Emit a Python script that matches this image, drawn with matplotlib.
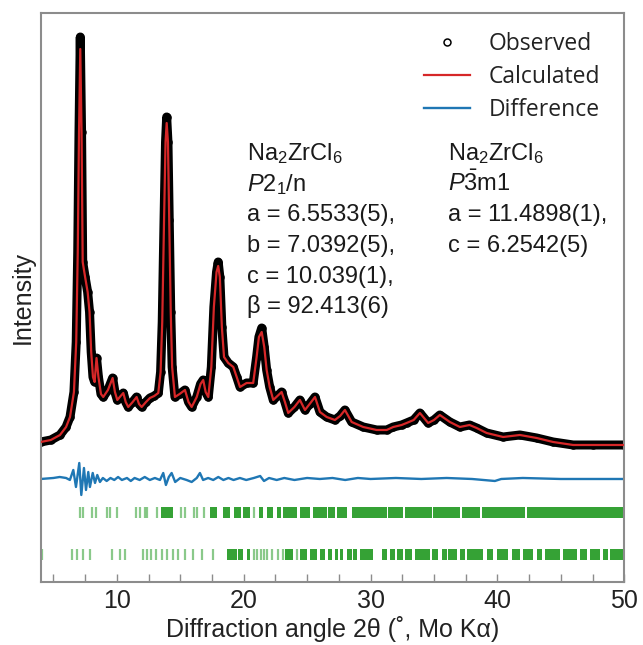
import matplotlib
matplotlib.use("Agg")
import matplotlib.pyplot as plt
from matplotlib.ticker import MultipleLocator

plt.rcParams['font.family'] = ['Liberation Sans', 'DejaVu Sans']
plt.rcParams['mathtext.fontset'] = 'custom'
plt.rcParams['mathtext.rm'] = 'Liberation Sans'
plt.rcParams['mathtext.it'] = 'Liberation Sans:italic'

# observed pattern (arbitrary intensity units)
two_theta = [4.00, 4.80, 5.52, 6.00, 6.31, 6.62, 6.80, 6.92, 7.02, 7.12,
             7.22, 7.31, 7.50, 7.70, 7.85, 7.98, 8.12, 8.25, 8.40, 8.55,
             8.75, 8.93, 9.30, 9.67, 9.85, 10.04, 10.30, 10.51, 10.70, 10.90,
             11.25, 11.56, 11.75, 11.96, 12.30, 12.61, 12.95, 13.27, 13.45, 13.58,
             13.72, 13.84, 13.93, 14.03, 14.13, 14.25, 14.36, 14.58, 14.95, 15.37,
             15.65, 15.90, 16.30, 16.60, 16.81, 17.00, 17.21, 17.45, 17.65, 17.86,
             17.99, 18.12, 18.28, 18.45, 18.78, 19.18, 19.45, 19.71, 20.23, 20.75,
             21.02, 21.20, 21.42, 21.62, 21.81, 22.05, 22.33, 22.99, 23.25, 23.51,
             24.00, 24.43, 24.83, 25.20, 25.62, 26.01, 26.54, 27.19, 27.60, 27.98,
             28.51, 29.42, 30.48, 31.27, 31.79, 32.45, 32.84, 33.40, 33.89, 34.54,
             35.00, 35.46, 36.25, 37.04, 37.80, 38.36, 39.15, 40.45, 41.77, 43.09,
             44.39, 45.97, 47.55, 50.00]
observed = [140, 142, 147, 155, 165, 190, 240, 330, 450, 545,
            450, 320, 305, 290, 270, 230, 205, 200, 224, 205,
            188, 185, 192, 204, 190, 182, 186, 189, 180, 175,
            180, 185, 178, 175, 180, 184, 186, 189, 210, 260,
            360, 440, 465, 440, 362, 270, 215, 185, 188, 192,
            180, 175, 185, 198, 202, 190, 185, 215, 275, 310,
            320, 305, 255, 225, 219, 215, 205, 195, 199, 199,
            225, 245, 254, 235, 212, 195, 182, 190, 180, 169,
            175, 182, 172, 178, 185, 170, 165, 162, 166, 172,
            160, 155, 152, 152, 155, 157, 159, 162, 169, 159,
            162, 167, 160, 155, 157, 154, 149, 145, 147, 144,
            140, 137, 137, 137]
# calculated profile differs from the observed one only at the strong peak tops
calc_peak_tops = {7.12: 533, 13.93: 459, 17.99: 316, 21.42: 250}
calculated = [calc_peak_tops.get(t, v) for t, v in zip(two_theta, observed)]

diff_x = [4.0, 5.0, 5.5, 6.0, 6.3, 6.57, 6.78, 7.04, 7.20, 7.41,
          7.57, 7.75, 7.88, 8.10, 8.28, 8.46, 8.67, 8.9, 9.2, 9.5,
          9.8, 10.1, 10.4, 10.8, 11.1, 11.4, 11.8, 12.2, 12.6, 13.0,
          13.4, 13.66, 13.87, 14.1, 14.32, 14.6, 15.0, 15.5, 15.9, 16.3,
          16.55, 16.8, 17.2, 17.6, 18.0, 18.4, 18.8, 19.2, 19.7, 20.2,
          20.8, 21.3, 21.6, 22.0, 22.6, 23.2, 24.0, 25.0, 26.0, 27.0,
          28.0, 29.0, 30.0, 32.0, 34.0, 36.0, 38.0, 39.8, 40.3, 42.0,
          45.0, 48.0, 50.0]
diff_y = [0, 1, 2, 1, -1, 9, -8, 16, -16, 11,
          -11, 7, -8, 6, -4, 4, -3, 1, -2, 1,
          -1, 2, -1, 1, -2, 1, -1, 2, -1, 1,
          -1, 6, -6, 2, 6, -3, 1, -1, -3, 1,
          6, -1, 1, -1, 2, -1, 1, -1, 1, -1,
          1, 3, -2, 1, -1, 1, -1, 1, 0, 1,
          -1, 1, 0, 1, 0, 1, 0, -2, 0, 1,
          0, 0, 0]

# reflection markers, P2_1/n phase: single ticks and merged runs
ticks_p21n = [7.10, 7.36, 8.02, 8.36, 9.25, 9.46, 10.04, 11.51, 11.83, 12.22,
              12.35, 13.14, 15.03, 15.37, 16.08, 16.34, 16.87, 20.81]
runs_p21n = [(13.46, 14.45), (17.34, 17.87), (18.39, 18.92), (19.23, 19.76),
             (19.97, 20.49), (21.23, 21.54), (21.86, 22.33), (22.65, 22.91),
             (23.12, 24.17), (24.43, 25.22), (25.46, 26.54), (26.66, 27.19),
             (27.33, 28.11), (28.51, 31.27), (31.39, 32.57), (32.71, 34.81),
             (34.94, 37.04), (37.18, 38.62), (38.75, 42.16), (42.30, 50.0)]
# P-3m1 phase
ticks_p3m1 = [4.08, 6.44, 6.89, 7.36, 7.89, 9.59, 10.25, 10.64, 12.10, 12.35,
              12.70, 13.09, 13.53, 13.93, 14.40, 14.85, 15.37, 16.03, 16.69, 17.55,
              20.81, 21.07, 21.34, 21.60, 21.86, 22.20, 22.72, 23.07, 24.17]
runs_p3m1 = [(18.66, 19.45), (19.57, 19.97), (20.23, 20.49), (23.25, 23.91),
             (24.43, 24.96), (25.22, 25.75), (26.01, 26.40), (26.66, 26.93),
             (27.19, 27.45), (27.59, 27.85), (28.11, 28.51), (28.64, 28.90),
             (29.16, 30.21), (30.87, 31.27), (31.53, 31.92), (32.05, 32.57),
             (32.71, 33.23), (33.49, 34.68), (34.81, 35.33), (35.60, 35.99),
             (36.12, 36.78), (37.04, 37.44), (37.57, 38.88), (39.15, 39.67),
             (39.94, 40.86), (41.12, 41.77), (42.04, 42.83), (43.09, 43.48),
             (43.75, 44.93), (45.19, 46.25), (46.51, 47.03), (47.30, 48.09),
             (48.35, 48.74), (48.88, 50.0)]

text_p21n = ['Na$_2$ZrCl$_6$', '$P$2$_1$/n', 'a = 6.5533(5),', 'b = 7.0392(5),',
             'c = 10.039(1),', 'β = 92.413(6)']
text_p3m1 = ['Na$_2$ZrCl$_6$', '$P\\bar{3}$m1', 'a = 11.4898(1),', 'c = 6.2542(5)']

diff_offset = 103
row1, row2, tick_h = 69, 27, 11
green = '#2a9d2a'

fig = plt.figure(figsize=(6.43, 6.45), dpi=100)
ax = fig.add_axes([0.0633, 0.0977, 0.9076, 0.8826])

ax.plot(two_theta, observed, color='black', lw=6.5, solid_joinstyle='round',
        solid_capstyle='round', zorder=2)
ax.plot(two_theta, observed, 'o', ms=5, mfc='none', mec='black', mew=1.1,
        label='Observed', zorder=2)
ax.plot(two_theta, calculated, color='#d62728', lw=1.6, label='Calculated', zorder=3)
ax.plot(diff_x, [d + diff_offset for d in diff_y], color='#1f77b4', lw=1.7,
        label='Difference')

ax.vlines(ticks_p21n, row1 - tick_h / 2, row1 + tick_h / 2, color=green, lw=1.6, alpha=0.55)
ax.broken_barh([(a, b - a) for a, b in runs_p21n], (row1 - tick_h / 2, tick_h),
               facecolor=green, alpha=0.95, lw=0)
ax.vlines(ticks_p3m1, row2 - tick_h / 2, row2 + tick_h / 2, color=green, lw=1.6, alpha=0.55)
ax.broken_barh([(a, b - a) for a, b in runs_p3m1], (row2 - tick_h / 2, tick_h),
               facecolor=green, alpha=0.95, lw=0)

for i, s in enumerate(text_p21n):
    ax.text(20.26, 422 - 30.7 * i, s, fontsize=17, color='#1a1a1a', va='baseline')
for i, s in enumerate(text_p3m1):
    ax.text(36.1, 422 - 30.7 * i, s, fontsize=17, color='#1a1a1a', va='baseline')

ax.set_xlim(4, 50)
ax.set_ylim(0, 569.3)
ax.set_yticks([])
ax.xaxis.set_major_locator(MultipleLocator(10))
ax.xaxis.set_minor_locator(MultipleLocator(2.5))
ax.tick_params(axis='x', which='both', direction='in', length=6, width=1,
               color='#8c8c8c', labelsize=18, labelcolor='#222222', pad=5)
for sp in ax.spines.values():
    sp.set_color('#8c8c8c')
    sp.set_linewidth(1.5)

ax.set_xlabel('Diffraction angle 2θ (˚, Mo Kα)', fontsize=18, color='#222222', labelpad=2)
ax.set_ylabel('Intensity', fontsize=18, color='#222222', labelpad=4)

leg = ax.legend(loc='upper left', bbox_to_anchor=(0.657, 0.966), frameon=False,
                prop={'family': 'Open Sans', 'size': 16.5}, handlelength=2.0,
                handletextpad=0.8, labelspacing=0.4, borderpad=0, borderaxespad=0)
for t in leg.get_texts():
    t.set_color('#222222')

fig.savefig('out.png', dpi=100)
